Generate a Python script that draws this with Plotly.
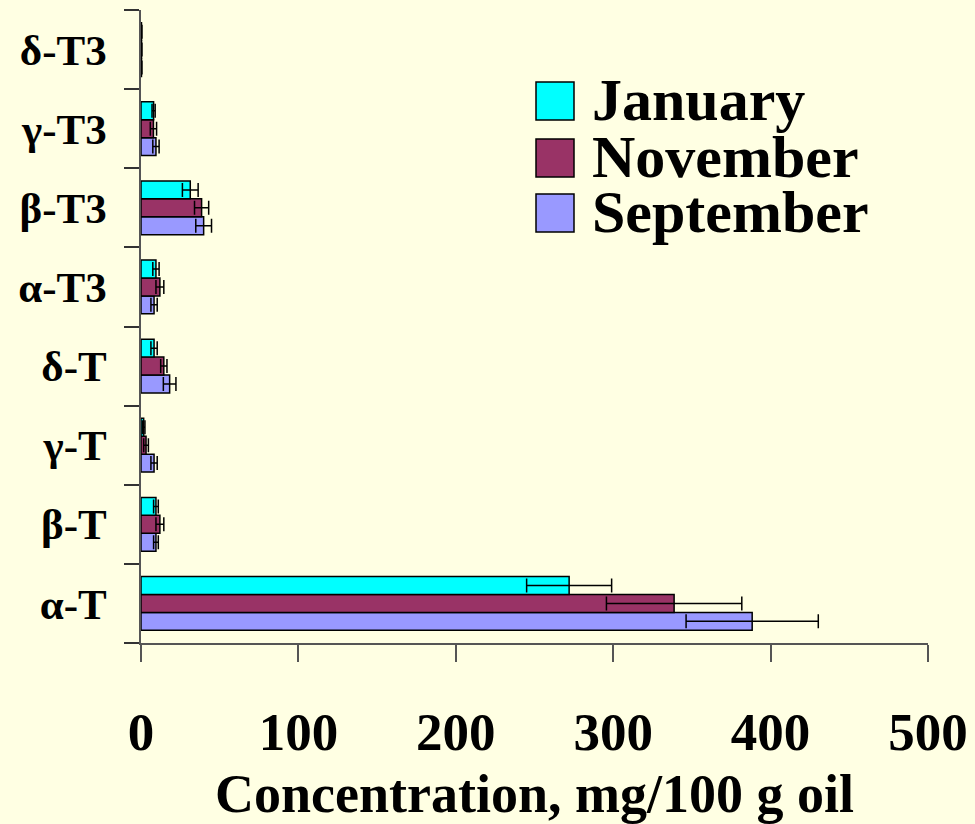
import plotly.graph_objects as go

# Tocopherol / tocotrienol homologues (bottom to top on the category axis)
compounds = ["α-T", "β-T", "γ-T", "δ-T", "α-T3", "β-T3", "γ-T3", "δ-T3"]

# Mean concentrations, mg/100 g oil
january = [272.0, 9.5, 1.7, 8.3, 9.5, 31.3, 8.0, 0.3]
november = [338.7, 12.0, 3.2, 14.5, 12.0, 38.5, 7.9, 0.3]
september = [388.3, 9.5, 8.3, 18.2, 8.3, 39.8, 9.5, 0.3]

# Standard deviations
january_sd = [27.0, 1.5, 0.8, 2.0, 2.0, 5.0, 1.0, 0.3]
november_sd = [43.0, 2.5, 1.5, 2.0, 2.5, 4.5, 2.0, 0.3]
september_sd = [42.0, 1.5, 2.0, 4.0, 2.0, 5.0, 2.0, 0.3]

series_names = ["January", "November", "September"]
series_colors = ["#00FFFF", "#993366", "#9999FF"]

BG = "#FFFFE3"
FONT = "Liberation Serif, Times New Roman, serif"

W, H = 975, 824
M_L, M_R, M_T, M_B = 141, 47, 10, 181
PW, PH = W - M_L - M_R, H - M_T - M_B

fig = go.Figure()

# Horizontal bars: the first trace sits lowest in each group, so September is added first
for name, vals, sd, color in [
    (series_names[2], september, september_sd, series_colors[2]),
    (series_names[1], november, november_sd, series_colors[1]),
    (series_names[0], january, january_sd, series_colors[0]),
]:
    fig.add_trace(go.Bar(
        y=compounds,
        x=vals,
        name=name,
        orientation="h",
        marker=dict(color=color, line=dict(color="black", width=1.5)),
        error_x=dict(type="data", array=sd, visible=True,
                     color="black", thickness=1.5, width=7),
        showlegend=False,
    ))


def px_to_paper(px, py):
    return (px - M_L) / PW, (H - M_B - py) / PH


# Legend: large square swatches with bold labels
legend_rows = [(series_names[0], series_colors[0], 82),
               (series_names[1], series_colors[1], 139),
               (series_names[2], series_colors[2], 194)]
size = 38
for name, color, top in legend_rows:
    x0, y1 = px_to_paper(536, top)
    x1, y0 = px_to_paper(536 + size, top + size)
    fig.add_shape(type="rect", xref="paper", yref="paper",
                  x0=x0, x1=x1, y0=y0, y1=y1,
                  fillcolor=color, line=dict(color="black", width=1.5))
    tx, ty = px_to_paper(590, top + size / 2 - 1)
    fig.add_annotation(xref="paper", yref="paper", x=tx, y=ty,
                       text=f"<b>{name}</b>", showarrow=False,
                       xanchor="left", yanchor="middle",
                       font=dict(family=FONT, size=60, color="black"))

fig.update_layout(
    width=W, height=H,
    margin=dict(l=M_L, r=M_R, t=M_T, b=M_B, autoexpand=False),
    paper_bgcolor=BG, plot_bgcolor=BG,
    barmode="group", bargap=0.32, bargroupgap=0.0,
    font=dict(family=FONT, color="black"),
    showlegend=False,
)

fig.update_xaxes(
    range=[0, 500], dtick=100, tick0=0,
    showgrid=False, zeroline=False,
    showline=True, linecolor="#555555", linewidth=1.5,
    ticks="outside", ticklen=17, tickwidth=1.5, tickcolor="#555555",
    tickfont=dict(family=FONT, size=53, color="black", weight="bold"),
    ticklabelstandoff=25,
    title=dict(text="<b>Concentration, mg/100 g oil</b>",
               font=dict(family=FONT, size=54, color="black"), standoff=22),
)

fig.update_yaxes(
    type="category", categoryorder="array", categoryarray=compounds,
    showgrid=False, zeroline=False,
    showline=True, linecolor="#555555", linewidth=1.5,
    ticks="outside", tickson="boundaries", ticklen=15, tickwidth=1.5,
    tickcolor="#333333",
    tickfont=dict(family=FONT, size=43, color="black", weight="bold"),
    ticklabelstandoff=24,
)

fig.write_html("out.html")
